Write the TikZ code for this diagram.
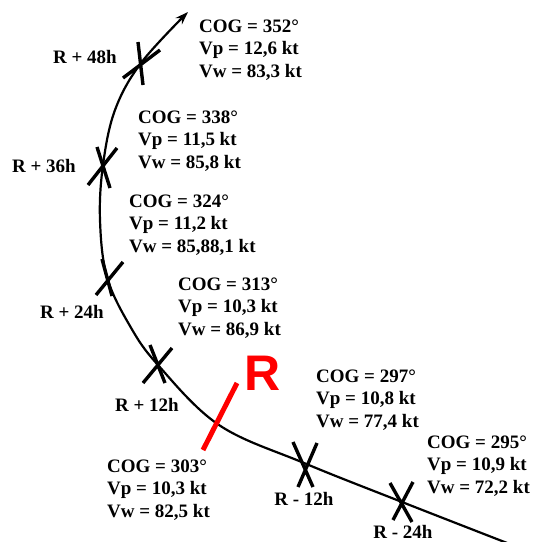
\documentclass[tikz,border=0pt]{standalone}
\usepackage{fontspec}
\setmainfont{Liberation Serif}
\newfontfamily\rfont{Liberation Sans}
\usetikzlibrary{arrows.meta}
\begin{document}
\begin{tikzpicture}[x=1pt,y=-1pt,
  info/.style={font=\fontsize{19}{22.5}\selectfont\bfseries, align=left, anchor=west, inner sep=0pt},
  lbl/.style={font=\fontsize{19}{22.5}\selectfont\bfseries, inner sep=0pt},
  xmark/.style={line width=3.4pt},
  track/.style={line width=2.2pt}]
\useasboundingbox (0,0) rectangle (539,542);
\clip (0,0) rectangle (539,542);
\fill[white] (0,0) rectangle (539,542);
% track points
\coordinate (tip) at (188,12);
\coordinate (p48) at (141,63);
\coordinate (a) at (115,110);
\coordinate (p36) at (103,165);
\coordinate (b) at (100,220);
\coordinate (p24) at (107,277);
\coordinate (c) at (130,326);
\coordinate (p12) at (158,365);
\coordinate (r) at (219,425);
\coordinate (m12) at (304,463);
\coordinate (m24) at (402,502);
\coordinate (end) at (520,548);
\draw[track,-{Stealth[length=13pt,width=9pt]}] plot[smooth,tension=0.6] coordinates {(end) (m24) (m12) (r) (p12) (c) (p24) (b) (p36) (a) (p48) (tip)};
% X marks
\draw[xmark] (123,78) -- (160,50) (138,42) -- (143,85);
\draw[xmark] (88,185) -- (117,148) (97,147) -- (110,188);
\draw[xmark] (96,295) -- (123,262) (102,259) -- (112,296);
\draw[xmark] (143,383) -- (172,348) (150,345) -- (165,383);
\draw[xmark] (293,442) -- (313,487) (298,487) -- (317,443);
\draw[xmark] (390,483) -- (412,522) (393,520) -- (413,482);
% red mark
\draw[red, line width=5pt] (203,450) -- (237,383);
\node[red, inner sep=0pt, font=\rfont\bfseries\fontsize{50}{50}\selectfont] (rl) at (263,373) {R};
% time labels
\node[lbl] (l48) at (85,57) {R + 48h};
\node[lbl] (l36) at (44,166) {R + 36h};
\node[lbl] (l24) at (72,312) {R + 24h};
\node[lbl] (l12) at (147,405) {R + 12h};
\node[lbl] (lm12) at (304,499) {R - 12h};
\node[lbl] (lm24) at (403,532) {R - 24h};
% info blocks
\node[info] (i1) at (199,50) {COG = 352°\\Vp = 12,6 kt\\Vw = 83,3 kt};
\node[info] (i2) at (138,141) {COG = 338°\\Vp = 11,5 kt\\Vw = 85,8 kt};
\node[info] (i3) at (129,225) {COG = 324°\\Vp = 11,2 kt\\Vw = 85,88,1 kt};
\node[info] (i4) at (178,308) {COG = 313°\\Vp = 10,3 kt\\Vw = 86,9 kt};
\node[info] (i5) at (316,400) {COG = 297°\\Vp = 10,8 kt\\Vw = 77,4 kt};
\node[info] (i6) at (427,466) {COG = 295°\\Vp = 10,9 kt\\Vw = 72,2 kt};
\node[info] (i7) at (107,490) {COG = 303°\\Vp = 10,3 kt\\Vw = 82,5 kt};
\end{tikzpicture}
\end{document}
